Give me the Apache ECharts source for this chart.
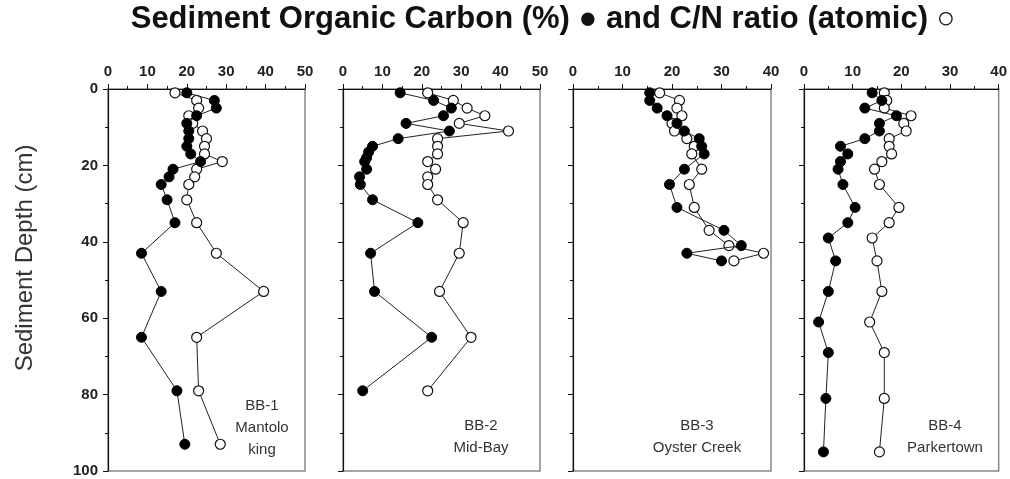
<!DOCTYPE html>
<html>
<head>
<meta charset="utf-8">
<script src="https://cdn.jsdelivr.net/npm/echarts@6/dist/echarts.min.js"></script>
<style>html,body{margin:0;padding:0;background:#fff}#c{width:1010px;height:479px}</style>
</head>
<body>
<div id="c"></div>
<script>
// ---- data (value, depth in cm) ----
const bb1DepthC = [1,3,5,7,9,11,13,15,17,19,21,23,25,29,35,43,53,65,79,93];
const bb1Carbon = [20,27,27.5,22.5,20,20.5,20.5,20,21,23.5,16.5,15.5,13.5,15,17,8.5,13.5,8.5,17.5,19.5];
const bb1DepthN = [1,3,5,7,9,11,13,15,17,19,21,23,25,29,35,43,53,65,79,93];
const bb1CN     = [17,22.5,23,20.5,21.5,24,25,24.5,24.5,29,22.5,22,20.5,20,22.5,27.5,39.5,22.5,23,28.5];

const bb2DepthC = [1,3,5,7,9,11,13,15,16.5,18,19,21,23,25,29,35,43,53,65,79];
const bb2Carbon = [14.5,23,27.5,25.5,16,27,14,7.5,6.5,6,5.5,6,4.2,4.4,7.5,19,7,8,22.5,5];
const bb2DepthN = [1,3,5,7,9,11,13,15,17,19,21,23,25,29,35,43,53,65,79];
const bb2CN     = [21.5,28,31.5,36,29.5,42,24,24,24,21.5,23.5,21.5,21.5,24,30.5,29.5,24.5,32.5,21.5];

const bb3DepthC = [1,3,5,7,9,11,13,15,17,21,25,31,37,41,43,45];
const bb3Carbon = [15.5,15.5,17,19,21,22.5,25.5,26,26.5,22.5,19.5,21,30.5,34,23,30];
const bb3DepthN = [1,3,5,7,9,11,13,15,17,21,25,31,37,41,43,45];
const bb3CN     = [17.5,21.5,21,22,20,20.5,23,24.5,24,26,23.5,24.5,27.5,31.5,38.5,32.5];

const bb4DepthC = [1,3,5,7,9,11,13,15,17,19,21,25,31,35,39,45,53,61,69,81,95];
const bb4Carbon = [14,16,12.5,19,15.5,15.5,12.5,7.5,9,7.5,7,8,10.5,9,5,6.5,5,3,5,4.5,4];
const bb4DepthN = [1,3,5,7,9,11,13,15,17,19,21,25,31,35,39,45,53,61,69,81,95];
const bb4CN     = [16.5,17,16.5,22,20.5,21,17.5,17.5,18,16,14.5,15.5,19.5,17.5,14,15,16,13.5,16.5,16.5,15.5];

const panelNames = ['BB-1\nMantolo\nking', 'BB-2\nMid-Bay', 'BB-3\nOyster Creek', 'BB-4\nParkertown'];
const xMaxes = [50, 50, 40, 40];
const depthTicks = [0, 20, 40, 60, 80, 100];
const titleText = 'Sediment Organic Carbon (%) \u25CF and C/N ratio (atomic) \u25CB';

// ---- layout ----
const grids = [
  {left:108, top:89, width:197, height:382},
  {left:343, top:89, width:197, height:382},
  {left:573, top:89, width:198, height:382},
  {left:804, top:89, width:197, height:382}
];
const panels = [
  [bb1DepthC, bb1Carbon, bb1DepthN, bb1CN],
  [bb2DepthC, bb2Carbon, bb2DepthN, bb2CN],
  [bb3DepthC, bb3Carbon, bb3DepthN, bb3CN],
  [bb4DepthC, bb4Carbon, bb4DepthN, bb4CN]
];
const pair = (vals, deps) => deps.map((d, i) => [vals[i], d]);

const labelStyle = {fontFamily:'Liberation Sans, Arial, sans-serif', fontSize:15, fontWeight:'bold', color:'#222'};

const option = {
  animation:false,
  backgroundColor:'#fff',
  grid: grids.map(g => Object.assign({show:true, borderColor:'#888', borderWidth:1.5, backgroundColor:'transparent'}, g)),
  xAxis: grids.map((g, i) => ({
    type:'value', gridIndex:i, position:'top', min:0, max:xMaxes[i], interval:10,
    axisLine:{show:true, onZero:false, lineStyle:{color:'#111', width:1.2}},
    axisTick:{show:true, length:5, lineStyle:{color:'#111'}},
    minorTick:{show:true, splitNumber:2, length:3, lineStyle:{color:'#111'}},
    splitLine:{show:false},
    axisLabel:Object.assign({margin:10}, labelStyle)
  })),
  yAxis: grids.map((g, i) => ({
    type:'value', gridIndex:i, inverse:true, min:0, max:100, interval:20,
    axisLine:{show:true, onZero:false, lineStyle:{color:'#111', width:1.2}},
    axisTick:{show:true, length:5, lineStyle:{color:'#111'}},
    minorTick:{show:true, splitNumber:2, length:3, lineStyle:{color:'#111'}},
    splitLine:{show:false},
    axisLabel:Object.assign({show:i===0, margin:10, formatter:v => depthTicks.includes(v) ? String(v) : ''}, labelStyle)
  })),
  series: [],
  graphic: [
    {type:'text', x:543, y:19,
      style:{text:titleText, font:'bold 31px "Liberation Sans", Arial, sans-serif', fill:'#111',
        textAlign:'center', textVerticalAlign:'middle'}},
    {type:'text', x:25, y:258, rotation:Math.PI/2,
      style:{text:'Sediment Depth (cm)', font:'24px "Liberation Sans", Arial, sans-serif', fill:'#333',
        textAlign:'center', textVerticalAlign:'middle'}}
  ]
};

panels.forEach((p, i) => {
  option.series.push({
    type:'line', xAxisIndex:i, yAxisIndex:i, data:pair(p[1], p[0]),
    symbol:'circle', symbolSize:10, z:3,
    lineStyle:{color:'#222', width:1},
    itemStyle:{color:'#000', borderColor:'#000', borderWidth:1}
  });
  option.series.push({
    type:'line', xAxisIndex:i, yAxisIndex:i, data:pair(p[3], p[2]),
    symbol:'circle', symbolSize:10, z:2,
    lineStyle:{color:'#222', width:1},
    itemStyle:{color:'#fff', borderColor:'#111', borderWidth:1.2}
  });
});

const labelCenters = [[262, 428], [481, 437], [697, 437], [945, 437]];
panelNames.forEach((t, i) => {
  option.graphic.push({
    type:'text', x:labelCenters[i][0], y:labelCenters[i][1],
    style:{text:t, font:'15px "Liberation Sans", Arial, sans-serif', fill:'#333',
      textAlign:'center', textVerticalAlign:'middle', lineHeight:22}
  });
});

const chart = echarts.init(document.getElementById('c'), null, {renderer:'canvas'});
chart.setOption(option);
</script>
</body>
</html>
